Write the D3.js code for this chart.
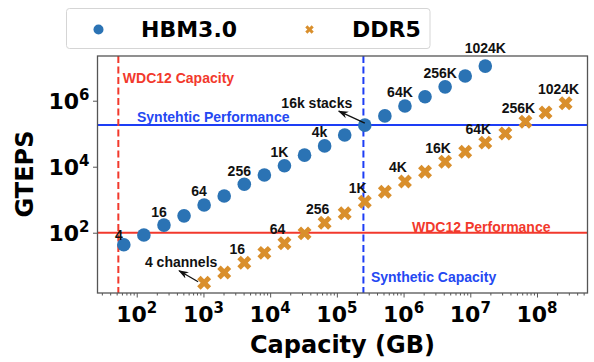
<!DOCTYPE html>
<html>
<head>
<meta charset="utf-8">
<script src="https://cdn.jsdelivr.net/npm/d3@7"></script>
<style>
  body { margin: 0; background: #fff; }
  .note { font-family: "Liberation Sans", Arial, sans-serif; font-weight: bold; font-size: 14px; }
  .big { font-family: "DejaVu Sans", sans-serif; font-weight: bold; }
</style>
</head>
<body>
<div class="chart"></div>
<script>
// data
var hbmCapacity = [64, 128, 256, 512, 1024, 2048, 4096, 8192, 16384, 32768, 65536,
  131072, 262144, 524288, 1048576, 2097152, 4194304, 8388608, 16777216];
var hbmGteps = [43, 85, 170, 324, 692, 1290, 2950, 5620, 10700, 22400, 42700,
  91200, 182000, 347000, 692000, 1320000, 2630000, 5620000, 11200000];
var hbmLabels = ["4", "", "16", "", "64", "", "256", "", "1K", "", "4k", "",
  "16k stacks", "", "64K", "", "256K", "", "1024K"];

var ddrCapacity = [1024, 2048, 4096, 8192, 16384, 32768, 65536, 131072, 262144,
  524288, 1048576, 2097152, 4194304, 8388608, 16777216, 33554432, 67108864,
  134217728, 268435456];
var ddrGteps = [3.05, 6.2, 12.3, 24.5, 47.9, 95.5, 200, 389, 871, 1740, 3550,
  7080, 14100, 28200, 53700, 102000, 229000, 437000, 832000];
var ddrLabels = ["4 channels", "", "16", "", "64", "", "256", "", "1K", "", "4K", "",
  "16K", "", "64K", "", "256K", "", "1024K"];

// reference lines
var wdcCapacity = 53;
var synthCapacity = 250000;
var wdcPerf = 100;
var synthPerf = 184000;

var xTickExps = [2, 3, 4, 5, 6, 7, 8];
var yTickExps = [2, 4, 6];

var svgWidth = 594;
var svgHeight = 362;

var margin = { top: 56, right: 6.5, bottom: 69, left: 97.5 };
var width = svgWidth - margin.left - margin.right;
var height = svgHeight - margin.top - margin.bottom;

var blue = "#2b73b4";
var orange = "#d98f2c";
var red = "#f2392c";
var lineBlue = "#1d3df5";

var svg = d3.select(".chart")
  .append("svg")
  .attr("width", svgWidth)
  .attr("height", svgHeight);

svg.append("defs").append("marker")
  .attr("id", "head")
  .attr("viewBox", "0 0 10 10")
  .attr("refX", 9).attr("refY", 5)
  .attr("markerWidth", 8).attr("markerHeight", 8)
  .attr("orient", "auto")
  .append("path")
  .attr("d", "M0,1.5 L10,5 L0,8.5 L3,5 Z")
  .attr("fill", "#111");

var chartGroup = svg.append("g")
  .attr("transform", `translate(${margin.left}, ${margin.top})`);

var x = d3.scaleLog()
  .domain([Math.pow(10, 1.412), Math.pow(10, 8.757)])
  .range([0, width]);

var y = d3.scaleLog()
  .domain([Math.pow(10, 0.173), Math.pow(10, 7.355)])
  .range([height, 0]);

// minor x ticks
var xMinor = [];
for (var e = 1; e <= 8; e++) {
  for (var m = 2; m <= 9; m++) {
    var v = m * Math.pow(10, e);
    if (v >= x.domain()[0] && v <= x.domain()[1]) xMinor.push(v);
  }
}

var axisColor = "#555";

var xAxisMinor = chartGroup.append("g")
  .attr("transform", `translate(0, ${height})`)
  .call(d3.axisBottom(x).tickValues(xMinor).tickSize(2.5).tickFormat(""));

var xAxis = chartGroup.append("g")
  .attr("transform", `translate(0, ${height})`)
  .call(d3.axisBottom(x).tickValues(xTickExps.map(d => Math.pow(10, d))).tickSize(4.5).tickFormat(""));

var yAxis = chartGroup.append("g")
  .call(d3.axisLeft(y).tickValues(yTickExps.map(d => Math.pow(10, d))).tickSize(4.5).tickFormat(""));

chartGroup.selectAll(".domain").remove();
chartGroup.selectAll(".tick line").attr("stroke", axisColor).attr("stroke-width", 1);

// tick labels with superscripts
xTickExps.forEach(function(p) {
  var t = chartGroup.append("text")
    .attr("class", "big")
    .attr("x", x(Math.pow(10, p)))
    .attr("y", height + 29)
    .attr("text-anchor", "middle")
    .attr("font-size", 22);
  t.append("tspan").text("10");
  t.append("tspan").attr("dy", -9).attr("font-size", 15).text(p);
});

yTickExps.forEach(function(p) {
  var t = chartGroup.append("text")
    .attr("class", "big")
    .attr("x", -8)
    .attr("y", y(Math.pow(10, p)) + 8)
    .attr("text-anchor", "end")
    .attr("font-size", 22);
  t.append("tspan").text("10");
  t.append("tspan").attr("dy", -9).attr("font-size", 15).text(p);
});

// reference lines
chartGroup.append("line")
  .attr("x1", 0).attr("x2", width)
  .attr("y1", y(synthPerf)).attr("y2", y(synthPerf))
  .attr("stroke", lineBlue).attr("stroke-width", 2);

chartGroup.append("line")
  .attr("x1", 0).attr("x2", width)
  .attr("y1", y(wdcPerf)).attr("y2", y(wdcPerf))
  .attr("stroke", red).attr("stroke-width", 2);

chartGroup.append("line")
  .attr("x1", x(wdcCapacity)).attr("x2", x(wdcCapacity))
  .attr("y1", 0).attr("y2", height)
  .attr("stroke", red).attr("stroke-width", 2)
  .attr("stroke-dasharray", "7,3.5");

chartGroup.append("line")
  .attr("x1", x(synthCapacity)).attr("x2", x(synthCapacity))
  .attr("y1", 0).attr("y2", height)
  .attr("stroke", lineBlue).attr("stroke-width", 2)
  .attr("stroke-dasharray", "7,3.5");

// line notes
chartGroup.append("text").attr("class", "note")
  .attr("x", x(wdcCapacity) + 4.5).attr("y", 22).attr("dy", "0.35em")
  .attr("fill", red).text("WDC12 Capacity");

chartGroup.append("text").attr("class", "note")
  .attr("x", 39.5).attr("y", y(synthPerf) - 7.5).attr("dy", "0.35em")
  .attr("fill", "#2448f2").text("Syntehtic Performance");

chartGroup.append("text").attr("class", "note")
  .attr("x", 314.5).attr("y", y(wdcPerf) - 6).attr("dy", "0.35em")
  .attr("fill", red).text("WDC12 Performance");

chartGroup.append("text").attr("class", "note")
  .attr("x", x(synthCapacity) + 7.5).attr("y", 221).attr("dy", "0.35em")
  .attr("fill", "#2448f2").text("Synthetic Capacity");

// DDR5 crosses
var crossPath = d3.symbol().type(d3.symbolCross).size(122)();

chartGroup.append("g")
  .selectAll("path")
  .data(ddrCapacity)
  .enter()
  .append("path")
  .attr("d", crossPath)
  .attr("transform", (d, i) => `translate(${x(d)}, ${y(ddrGteps[i])}) rotate(45)`)
  .attr("fill", orange);

// HBM circles
chartGroup.append("g")
  .selectAll("circle")
  .data(hbmCapacity)
  .enter()
  .append("circle")
  .attr("cx", d => x(d))
  .attr("cy", (d, i) => y(hbmGteps[i]))
  .attr("r", 6.8)
  .attr("fill", blue);

// point labels
function addLabels(caps, vals, labels, dx, dy, special) {
  labels.forEach(function(lab, i) {
    if (!lab) return;
    var px = x(caps[i]);
    var py = y(vals[i]);
    var s = special[i];
    if (s) {
      chartGroup.append("text").attr("class", "note")
        .attr("x", px + s.tx).attr("y", py + s.ty).attr("dy", "0.35em")
        .attr("text-anchor", "middle").attr("fill", "#111").text(lab);
      chartGroup.append("line")
        .attr("x1", px + s.ax).attr("y1", py + s.ay)
        .attr("x2", px + s.bx).attr("y2", py + s.by)
        .attr("stroke", "#111").attr("stroke-width", 1.3)
        .attr("marker-end", "url(#head)");
    } else {
      chartGroup.append("text").attr("class", "note")
        .attr("x", px + dx).attr("y", py + dy).attr("dy", "0.35em")
        .attr("text-anchor", "middle").attr("fill", "#111").text(lab);
    }
  });
}

addLabels(hbmCapacity, hbmGteps, hbmLabels, -5, -13.5, {
  0: { tx: -5, ty: -10, ax: 0, ay: 0, bx: 0, by: 0 },
  12: { tx: -48, ty: -22, ax: 0, ay: -2, bx: -26, by: -14 },
  18: { tx: 0, ty: -18, ax: 0, ay: 0, bx: 0, by: 0 }
});
addLabels(ddrCapacity, ddrGteps, ddrLabels, -7, -14, {
  0: { tx: -23, ty: -21, ax: -6, ay: -1, bx: -25, by: -12 }
});
// plain labels drawn by the special path leave a zero-length line; drop them
chartGroup.selectAll("line").filter(function() {
  var s = d3.select(this);
  return s.attr("marker-end") && +s.attr("x1") === +s.attr("x2") && +s.attr("y1") === +s.attr("y2");
}).remove();

// frame
chartGroup.append("rect")
  .attr("width", width).attr("height", height)
  .attr("fill", "none").attr("stroke", axisColor).attr("stroke-width", 1.3);

// axis titles
svg.append("text").attr("class", "big")
  .attr("x", margin.left + 245).attr("y", 353)
  .attr("text-anchor", "middle").attr("font-size", 24)
  .text("Capacity (GB)");

svg.append("text").attr("class", "big")
  .attr("transform", "translate(33, 174) rotate(-90)")
  .attr("text-anchor", "middle").attr("font-size", 24)
  .text("GTEPS");

// legend
var legend = svg.append("g");
legend.append("rect")
  .attr("x", 66.5).attr("y", 8.5).attr("width", 363.5).attr("height", 40)
  .attr("rx", 3).attr("fill", "#fff").attr("stroke", "#d5d5d5");
legend.append("circle")
  .attr("cx", 98.5).attr("cy", 29.5).attr("r", 5).attr("fill", blue);
legend.append("text").attr("class", "big")
  .attr("x", 141).attr("y", 36.5).attr("font-size", 22).text("HBM3.0");
legend.append("path")
  .attr("d", d3.symbol().type(d3.symbolCross).size(45)())
  .attr("transform", "translate(309.5, 29.5) rotate(45)")
  .attr("fill", orange);
legend.append("text").attr("class", "big")
  .attr("x", 352).attr("y", 36.5).attr("font-size", 22).text("DDR5");
</script>
</body>
</html>
